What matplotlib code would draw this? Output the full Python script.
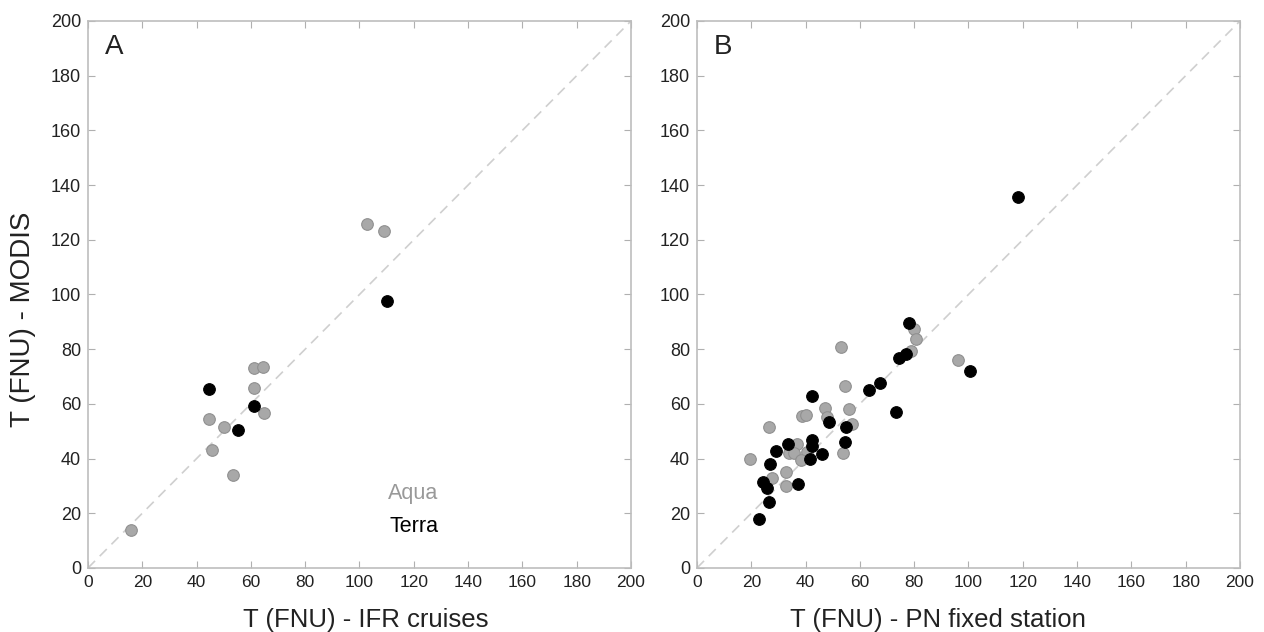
import matplotlib
matplotlib.use("Agg")
import matplotlib.pyplot as plt

plt.rcParams['font.family'] = ['Liberation Sans', 'DejaVu Sans']

# Panel A - IFR cruises
a_aqua_x = [102.9, 109.1, 61.0, 64.3, 61.0, 64.8, 44.7, 50.0, 45.5, 53.3, 15.8]
a_aqua_y = [125.9, 123.3, 73.2, 73.4, 65.8, 56.6, 54.4, 51.7, 43.1, 33.9, 13.9]
a_terra_x = [110.1, 44.7, 61.0, 55.1]
a_terra_y = [97.7, 65.4, 59.2, 50.5]

# Panel B - PN fixed station
b_aqua_x = [79.8, 80.5, 78.8, 52.9, 96.1, 54.5, 47.3, 55.9, 38.7, 40.0, 48.0, 57.0,
            26.6, 36.7, 33.8, 35.7, 40.4, 53.7, 38.3, 19.5, 27.5, 32.9, 32.9]
b_aqua_y = [87.5, 83.6, 79.5, 80.8, 76.2, 66.4, 58.4, 58.3, 55.7, 56.1, 55.1, 52.5,
            51.7, 45.3, 41.9, 42.2, 42.4, 41.9, 39.5, 39.9, 32.8, 35.0, 30.1]
b_terra_x = [78.1, 76.9, 74.3, 100.4, 67.3, 63.2, 42.4, 73.4, 48.7, 54.9, 54.5, 42.2,
             33.4, 42.5, 45.9, 29.2, 41.6, 26.8, 37.2, 24.4, 25.7, 26.5, 22.7, 118.2]
b_terra_y = [89.7, 78.1, 76.7, 72.1, 67.8, 65.2, 62.8, 57.0, 53.3, 51.6, 46.1, 46.8,
             45.3, 44.6, 41.7, 42.7, 39.9, 37.9, 30.6, 31.4, 29.4, 24.1, 17.8, 135.6]

ticks = [0, 20, 40, 60, 80, 100, 120, 140, 160, 180, 200]
txt = '#222222'

fig = plt.figure(figsize=(12.64, 6.32), dpi=100)
axA = fig.add_axes([0.0696, 0.1013, 0.4296, 0.8655])
axB = fig.add_axes([0.5514, 0.1013, 0.4296, 0.8655])

panels = [
    (axA, a_aqua_x, a_aqua_y, a_terra_x, a_terra_y, 'A', 'T (FNU) - IFR cruises', 0.512),
    (axB, b_aqua_x, b_aqua_y, b_terra_x, b_terra_y, 'B', 'T (FNU) - PN fixed station', 0.444),
]

for ax, ax_x, ax_y, tx, ty, lab, xlab, xl_pos in panels:
    ax.plot([0, 200], [0, 200], ls=(0, (6, 4)), color='#cfcfcf', lw=1.2, zorder=1)
    ax.scatter(ax_x, ax_y, s=70, color='#a8a8a8', edgecolors='#909090',
               linewidths=0.8, zorder=2)
    ax.scatter(tx, ty, s=70, color='black', edgecolors='black',
               linewidths=0.8, zorder=3)
    ax.set_xlim(0, 200)
    ax.set_ylim(0, 200)
    ax.set_xticks(ticks)
    ax.set_yticks(ticks)
    ax.tick_params(direction='in', top=True, right=True, length=5,
                   color='#b0b0b0', labelcolor=txt)
    ax.tick_params(axis='x', labelsize=12.5, pad=5)
    ax.tick_params(axis='y', labelsize=13, pad=5)
    for sp in ax.spines.values():
        sp.set_color('#bdbdbd')
        sp.set_linewidth(1.2)
    ax.text(xl_pos, -0.108, xlab, transform=ax.transAxes, fontsize=18.5,
            ha='center', va='baseline', color=txt)
    ax.text(0.031, 0.952, lab, transform=ax.transAxes, fontsize=20,
            ha='left', va='center', color=txt)

fig.text(23 / 1264, 1 - 319 / 632, 'T (FNU) - MODIS', rotation=90, fontsize=20,
         ha='center', va='center', color=txt)
axA.text(0.645, 0.137, 'Aqua', transform=axA.transAxes, fontsize=15.5,
         ha='right', va='center', color='#999999')
axA.text(0.645, 0.075, 'Terra', transform=axA.transAxes, fontsize=15.5,
         ha='right', va='center', color='black')

fig.savefig('out.png', dpi=100)
